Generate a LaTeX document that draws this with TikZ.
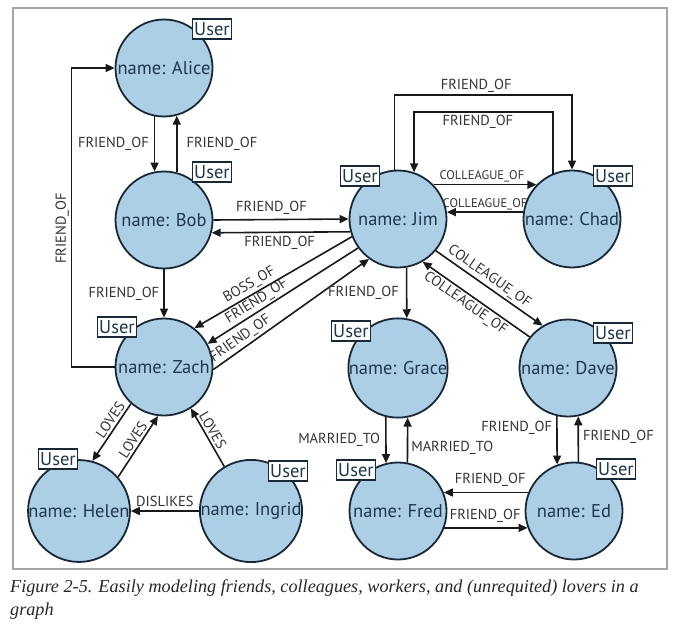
\documentclass[tikz,border=0pt]{standalone}
\usepackage{fontspec}
\setmainfont{Liberation Serif}
\setsansfont{PT Sans}
\usetikzlibrary{arrows.meta}

\definecolor{nodeblue}{RGB}{173,207,230}
\definecolor{rimdark}{RGB}{25,40,55}
\definecolor{inkblue}{RGB}{30,55,75}
\definecolor{framegray}{RGB}{165,165,165}

\tikzset{
  person/.style={circle, draw=rimdark, fill=nodeblue, line width=1.8pt,
    minimum size=97pt, inner sep=0pt, text=inkblue,
    font=\sffamily\fontsize{18.5}{20}\selectfont},
  userbox/.style={draw=rimdark, fill=white, line width=1.2pt, inner sep=1.5pt,
    minimum height=20pt, text=inkblue, font=\sffamily\fontsize{18.5}{20}\selectfont},
  rel/.style={inner sep=2pt, text=black!80, font=\sffamily\fontsize{14.5}{16}\selectfont},
  smallrel/.style={inner sep=1.5pt, text=black!80, font=\sffamily\fontsize{12.5}{14}\selectfont},
  link/.style={draw=black!90, line width=1.6pt, -{Triangle[length=9pt,width=8pt]}},
}

\begin{document}
\begin{tikzpicture}[x=1pt,y=-1pt]
        \useasboundingbox (0,0) rectangle (680,626);
        \draw[framegray, line width=1.8pt] (13,8) rectangle (667,569);

        \begin{scope}[every node/.style={person}]
          \node (alice)  at (164,68)  {name: Alice};
          \node (bob)    at (164,220) {name: Bob};
          \node (zach)   at (164,367) {name: Zach};
          \node (helen)  at (79,511)  {name: Helen};
          \node (ingrid) at (251,511) {name: Ingrid};
          \node (jim)    at (398,219) {name: Jim};
          \node (chad)   at (572,219) {name: Chad};
          \node (grace)  at (398,368) {name: Grace};
          \node (dave)   at (568,368) {name: Dave};
          \node (fred)   at (398,511) {name: Fred};
          \node (ed)     at (574,511) {name: Ed};
        \end{scope}

        \begin{scope}[every node/.style={userbox}]
          \node (alice-u)  at ([shift={(48,-39)}]alice.center)  {User};
          \node (bob-u)    at ([shift={(48,-48)}]bob.center)    {User};
          \node (zach-u)   at ([shift={(-47,-40)}]zach.center)  {User};
          \node (helen-u)  at ([shift={(-21,-52)}]helen.center) {User};
          \node (ingrid-u) at ([shift={(37,-40)}]ingrid.center) {User};
          \node (jim-u)    at ([shift={(-38,-43)}]jim.center)   {User};
          \node (chad-u)   at ([shift={(41,-43)}]chad.center)   {User};
          \node (grace-u)  at ([shift={(-47,-37)}]grace.center) {User};
          \node (dave-u)   at ([shift={(45,-35)}]dave.center)   {User};
          \node (fred-u)   at ([shift={(-42,-41)}]fred.center)  {User};
          \node (ed-u)     at ([shift={(42,-42)}]ed.center)     {User};
        \end{scope}

        \coordinate (outer) at (0,95);
        \coordinate (inner) at (0,112);

        \begin{scope}[every edge/.style={link}]
          \path (alice.-101) edge node[rel, left=3pt] {FRIEND\_OF} (bob.101);
          \path (bob.75)     edge node[rel, right=7pt] {FRIEND\_OF} (alice.-75);
          \path (bob.east)   edge node[rel, above=2pt, pos=.43] {FRIEND\_OF} (jim.west);
          \path (jim.195)    edge node[rel, below=1pt, pos=.51] {FRIEND\_OF} (bob.-15);
          \path (bob.south)  edge node[rel, left=2pt] {FRIEND\_OF} (zach.north);

          \path (jim.201) edge node[rel, sloped, above, pos=.62] {BOSS\_OF} (zach.52);
          \path (jim.216) edge node[rel, sloped, above, pos=.64] {FRIEND\_OF} (zach.28);
          \path (zach.-3) edge node[rel, sloped, above, pos=.21] {FRIEND\_OF} (jim.234);

          \path (jim.44)   edge node[smallrel, above, pos=.47] {COLLEAGUE\_OF} (chad.136);
          \path (chad.172) edge node[smallrel, above, pos=.5]  {COLLEAGUE\_OF} (jim.8);
          \path (jim.-40)  edge node[rel, sloped, above, pos=.45] {COLLEAGUE\_OF} (dave.121);
          \path (dave.141) edge node[rel, sloped, below, pos=.55] {COLLEAGUE\_OF} (jim.-60);
          \path (jim.-80)  edge node[rel, left=5pt] {FRIEND\_OF} (grace.80);

          \path (zach.228)   edge node[rel, sloped, above, pos=.36] {LOVES} (helen.75);
          \path (helen.41)   edge node[rel, sloped, above, pos=.54] {LOVES} (zach.263);
          \path (ingrid.121) edge node[rel, sloped, above, pos=.55] {LOVES} (zach.-57);
          \path (ingrid.west) edge node[rel, above=2pt] {DISLIKES} (helen.east);

          \path (grace.-104) edge node[rel, left=3pt] {MARRIED\_TO} (fred.104);
          \path (fred.79)    edge node[rel, right=1pt, pos=.32] {MARRIED\_TO} (grace.-79);
          \path (dave.-103)  edge node[rel, left=2pt, pos=.25] {FRIEND\_OF} (ed.110);
          \path (ed.85)      edge node[rel, right=2pt, pos=.54] {FRIEND\_OF} (dave.-78);
          \path (ed.158)     edge node[rel, above=3pt, pos=.45] {FRIEND\_OF} (fred.22);
          \path (fred.-20)   edge node[rel, above=3pt, pos=.49] {FRIEND\_OF} (ed.200);
        \end{scope}

        % loops over the top and round the left side
        \draw[link] (jim.94) -- (jim.94 |- outer)
          -| node[rel, above, pos=.23] {FRIEND\_OF} (chad.north);
        \draw[link] (chad.113) -- (chad.113 |- inner)
          -| node[rel, below, pos=.27] {FRIEND\_OF} (jim.71);
        \draw[link] (zach.west) -- ++(-43,0)
          |- node[rel, sloped, above, pos=.232] {FRIEND\_OF} (alice.west);

        \node[anchor=north west, align=left, inner sep=0pt, text=black!85,
          font=\itshape\fontsize{18.2}{23}\selectfont] (caption) at (10,579)
          {Figure 2-5. Easily modeling friends, colleagues, workers, and (unrequited) lovers in a\\graph};

      \end{tikzpicture}
\end{document}
